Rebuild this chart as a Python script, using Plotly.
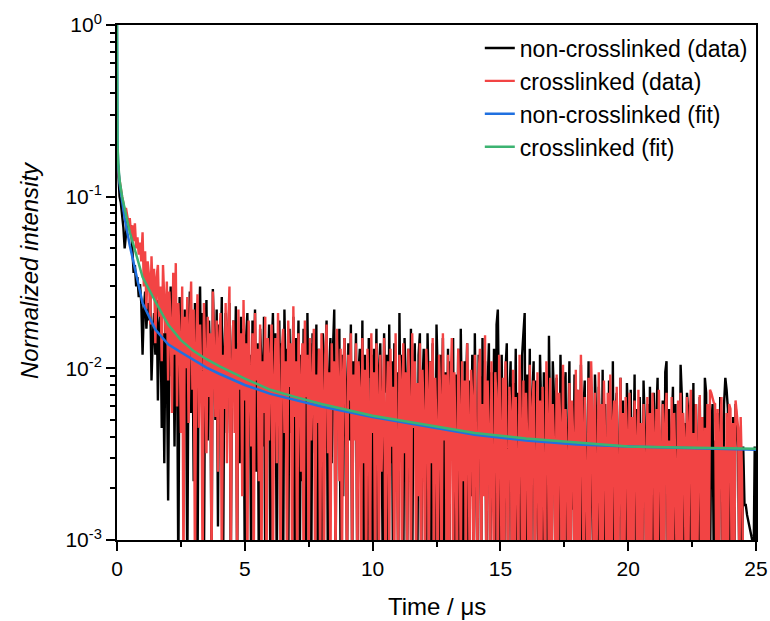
import plotly.graph_objects as go

# ---------------- data ----------------
data_dt = 0.05  # µs between samples of the measured decays

# non-crosslinked decay, one row per µs (20 samples per row)
noncross_data = [
    0.195, 0.13, 0.10, 0.092, 0.080, 0.066, 0.050, 0.060, 0.072, 0.070, 0.064, 0.068, 0.048, 0.036, 0.040, 0.030, 0.034, 0.026, 0.031, 0.024,
    0.012, 0.022, 0.028, 0.017, 0.024, 0.019, 0.026, 0.0085, 0.015, 0.021, 0.012, 0.025, 0.0065, 0.018, 0.022, 0.0045, 0.016, 0.0028, 0.019, 0.011,
    0.0017, 0.014, 0.030, 0.009, 0.024, 0.0035, 0.020, 0.013, 0.0006, 0.026, 0.008, 0.018, 0.0045, 0.022, 0.011, 0.0006, 0.016, 0.028, 0.0055, 0.019,
    0.0022, 0.024, 0.012, 0.0006, 0.017, 0.030, 0.007, 0.021, 0.0006, 0.014, 0.025, 0.0038, 0.019, 0.011, 0.0006, 0.029, 0.015, 0.005, 0.022, 0.0012,
    0.018, 0.009, 0.026, 0.0006, 0.013, 0.021, 0.0042, 0.016, 0.024, 0.0006, 0.011, 0.019, 0.0065, 0.023, 0.0006, 0.014, 0.0028, 0.020, 0.010, 0.017,
    0.0006, 0.015, 0.021, 0.0048, 0.012, 0.0006, 0.019, 0.008, 0.022, 0.0025, 0.014, 0.0006, 0.017, 0.011, 0.0035, 0.020, 0.0006, 0.013, 0.0075, 0.018,
    0.0006, 0.012, 0.021, 0.0055, 0.016, 0.0006, 0.010, 0.019, 0.003, 0.014, 0.0006, 0.022, 0.0085, 0.013, 0.0006, 0.017, 0.0042, 0.011, 0.020, 0.0006,
    0.015, 0.0065, 0.019, 0.0006, 0.012, 0.0022, 0.017, 0.009, 0.0006, 0.021, 0.0048, 0.014, 0.0006, 0.016, 0.011, 0.0032, 0.018, 0.0006, 0.013, 0.0075,
    0.0006, 0.016, 0.0042, 0.012, 0.019, 0.0006, 0.0095, 0.015, 0.0028, 0.013, 0.022, 0.0006, 0.011, 0.0058, 0.017, 0.0006, 0.012, 0.0018, 0.015, 0.0085,
    0.0006, 0.014, 0.0038, 0.018, 0.0006, 0.011, 0.0065, 0.016, 0.0006, 0.0095, 0.013, 0.0025, 0.019, 0.0006, 0.012, 0.0048, 0.0006, 0.015, 0.0088, 0.012,
    0.0006, 0.013, 0.0032, 0.017, 0.0006, 0.0098, 0.014, 0.0045, 0.0006, 0.016, 0.0072, 0.012, 0.0006, 0.018, 0.0028, 0.011, 0.0006, 0.014, 0.0055, 0.0095,
    0.0006, 0.021, 0.0042, 0.012, 0.0006, 0.015, 0.0085, 0.0006, 0.013, 0.0026, 0.017, 0.0006, 0.0092, 0.014, 0.0038, 0.0006, 0.012, 0.016, 0.0006, 0.0078,
    0.013, 0.0025, 0.0006, 0.016, 0.0068, 0.011, 0.0006, 0.014, 0.0032, 0.0006, 0.018, 0.0088, 0.0006, 0.012, 0.0045, 0.015, 0.0006, 0.0095, 0.0021, 0.013,
    0.0006, 0.011, 0.0055, 0.015, 0.0006, 0.0092, 0.0028, 0.013, 0.0006, 0.017, 0.0042, 0.0006, 0.011, 0.0072, 0.014, 0.0006, 0.0085, 0.0018, 0.012, 0.0006,
    0.016, 0.0048, 0.0006, 0.012, 0.0088, 0.0006, 0.015, 0.0032, 0.011, 0.0006, 0.0078, 0.014, 0.0006, 0.0095, 0.0024, 0.013, 0.0006, 0.018, 0.022, 0.0052,
    0.0006, 0.012, 0.0035, 0.0006, 0.0098, 0.014, 0.0006, 0.0065, 0.011, 0.0006, 0.0082, 0.0022, 0.013, 0.0006, 0.0072, 0.0045, 0.0006, 0.012, 0.016, 0.021,
    0.0006, 0.0092, 0.0028, 0.013, 0.0006, 0.0068, 0.011, 0.0006, 0.0085, 0.0035, 0.0006, 0.012, 0.0052, 0.0006, 0.0095, 0.0018, 0.0078, 0.0006, 0.0155, 0.0042,
    0.0006, 0.011, 0.0065, 0.0006, 0.0088, 0.0025, 0.0006, 0.012, 0.0048, 0.0006, 0.0072, 0.0095, 0.0006, 0.0038, 0.011, 0.0006, 0.0062, 0.0015, 0.0092, 0.0006,
    0.0075, 0.0032, 0.0006, 0.0105, 0.0006, 0.0058, 0.0085, 0.0006, 0.0042, 0.011, 0.0006, 0.0068, 0.0022, 0.0006, 0.0092, 0.0048, 0.0006, 0.0078, 0.0035, 0.0006,
    0.0098, 0.0006, 0.0062, 0.0028, 0.0006, 0.0085, 0.0045, 0.0006, 0.011, 0.0006, 0.0055, 0.0072, 0.0006, 0.0032, 0.0088, 0.0006, 0.0065, 0.0018, 0.0006, 0.0082,
    0.0048, 0.0006, 0.0075, 0.0006, 0.0038, 0.0092, 0.0006, 0.0058, 0.0006, 0.0068, 0.0025, 0.0006, 0.0085, 0.0045, 0.0006, 0.0062, 0.0006, 0.0078, 0.0032, 0.0006,
    0.0072, 0.0006, 0.0052, 0.0088, 0.0006, 0.0038, 0.0006, 0.0065, 0.0006, 0.0095, 0.011, 0.0006, 0.0058, 0.0006, 0.0042, 0.0078, 0.0006, 0.0062, 0.0006, 0.0035,
    0.0006, 0.0105, 0.0068, 0.0006, 0.0048, 0.0006, 0.0072, 0.0055, 0.0006, 0.0038, 0.0006, 0.0082, 0.0006, 0.0062, 0.0028, 0.0006, 0.0068, 0.0006, 0.0052, 0.0006,
    0.0088, 0.0072, 0.0006, 0.0058, 0.0006, 0.0045, 0.0062, 0.0006, 0.0038, 0.0006, 0.0055, 0.0006, 0.0068, 0.0048, 0.0006, 0.0062, 0.0088, 0.0075, 0.0058, 0.0006,
    0.0045, 0.0006, 0.0052, 0.0006, 0.0062, 0.0048, 0.0035, 0.0006, 0.0042, 0.0006, 0.0035, 0.0016, 0.0016, 0.0014, 0.0013, 0.0012, 0.0011, 0.0010, 0.0006, 0.0035,
    0.0006,
]

# crosslinked decay, one row per µs (20 samples per row), ends at 24.5 µs
cross_data = [
    0.190, 0.14, 0.125, 0.110, 0.100, 0.092, 0.082, 0.086, 0.078, 0.070, 0.075, 0.060, 0.068, 0.055, 0.070, 0.050, 0.058, 0.046, 0.054, 0.042,
    0.062, 0.030, 0.048, 0.022, 0.042, 0.035, 0.018, 0.045, 0.026, 0.038, 0.014, 0.034, 0.040, 0.020, 0.030, 0.011, 0.040, 0.024, 0.016, 0.032,
    0.0085, 0.028, 0.018, 0.0055, 0.036, 0.012, 0.041, 0.006, 0.024, 0.015, 0.0042, 0.030, 0.0006, 0.020, 0.010, 0.026, 0.0048, 0.017, 0.032, 0.0075,
    0.022, 0.0006, 0.014, 0.027, 0.0045, 0.018, 0.009, 0.0006, 0.024, 0.012, 0.0032, 0.020, 0.0068, 0.016, 0.0006, 0.028, 0.011, 0.0052, 0.019, 0.0025,
    0.015, 0.021, 0.0006, 0.012, 0.0058, 0.024, 0.0028, 0.017, 0.030, 0.0006, 0.010, 0.019, 0.0042, 0.013, 0.0006, 0.022, 0.0075, 0.016, 0.0018, 0.025,
    0.0065, 0.014, 0.0006, 0.019, 0.0095, 0.0035, 0.016, 0.0006, 0.021, 0.0085, 0.013, 0.0022, 0.018, 0.0006, 0.011, 0.0055, 0.020, 0.0006, 0.015, 0.0038,
    0.012, 0.018, 0.0006, 0.0088, 0.015, 0.0028, 0.021, 0.0065, 0.0006, 0.013, 0.017, 0.0042, 0.011, 0.0006, 0.019, 0.0078, 0.014, 0.0006, 0.023, 0.0052,
    0.011, 0.0006, 0.016, 0.0085, 0.0025, 0.014, 0.0006, 0.019, 0.0068, 0.012, 0.0006, 0.015, 0.0038, 0.010, 0.017, 0.0006, 0.0092, 0.0048, 0.013, 0.0006,
    0.016, 0.0072, 0.0006, 0.012, 0.018, 0.0032, 0.0095, 0.0006, 0.014, 0.0058, 0.011, 0.0006, 0.017, 0.0085, 0.0022, 0.013, 0.0006, 0.0098, 0.015, 0.0045,
    0.0006, 0.012, 0.0065, 0.016, 0.0006, 0.0092, 0.0038, 0.014, 0.0006, 0.011, 0.0075, 0.0006, 0.015, 0.0028, 0.0098, 0.0006, 0.013, 0.0055, 0.0006, 0.016,
    0.0042, 0.0095, 0.0006, 0.014, 0.0068, 0.0006, 0.012, 0.0025, 0.0088, 0.015, 0.0006, 0.0058, 0.011, 0.0006, 0.013, 0.0035, 0.0078, 0.0006, 0.016, 0.0048,
    0.0006, 0.012, 0.0085, 0.0006, 0.014, 0.0032, 0.0095, 0.0006, 0.013, 0.0062, 0.0006, 0.016, 0.0045, 0.011, 0.0006, 0.0082, 0.0018, 0.014, 0.0006, 0.0098,
    0.0052, 0.0006, 0.013, 0.0075, 0.0006, 0.011, 0.0028, 0.015, 0.0006, 0.0088, 0.0045, 0.0006, 0.012, 0.0065, 0.0006, 0.016, 0.0038, 0.0092, 0.0006, 0.012,
    0.0006, 0.0078, 0.015, 0.0006, 0.0095, 0.0032, 0.0006, 0.013, 0.0058, 0.0006, 0.011, 0.0022, 0.0085, 0.0006, 0.014, 0.0048, 0.0006, 0.0098, 0.0068, 0.0006,
    0.012, 0.0035, 0.0006, 0.0092, 0.013, 0.0006, 0.0062, 0.0018, 0.0156, 0.0006, 0.0085, 0.0042, 0.0006, 0.011, 0.0028, 0.0006, 0.0095, 0.0065, 0.0006, 0.012,
    0.0045, 0.0006, 0.0088, 0.0006, 0.011, 0.0032, 0.0006, 0.0078, 0.0055, 0.0006, 0.0098, 0.0006, 0.0068, 0.0025, 0.0006, 0.012, 0.0048, 0.0006, 0.0085, 0.0006,
    0.0072, 0.0038, 0.0006, 0.0105, 0.0006, 0.0058, 0.0085, 0.0006, 0.0032, 0.0095, 0.0006, 0.0065, 0.0006, 0.0078, 0.0022, 0.0006, 0.011, 0.0052, 0.0006, 0.0088,
    0.0006, 0.0062, 0.0035, 0.0006, 0.0092, 0.0006, 0.0072, 0.0045, 0.0006, 0.0105, 0.0006, 0.0058, 0.0028, 0.0006, 0.0082, 0.0006, 0.0065, 0.0038, 0.0006, 0.0098,
    0.0006, 0.0075, 0.0006, 0.012, 0.0048, 0.0006, 0.0068, 0.0025, 0.0006, 0.0088, 0.0006, 0.011, 0.0055, 0.0006, 0.0072, 0.0006, 0.0038, 0.0095, 0.0006, 0.0062,
    0.0006, 0.0085, 0.0035, 0.0006, 0.0072, 0.0006, 0.0092, 0.0006, 0.0048, 0.0065, 0.0006, 0.0078, 0.0006, 0.0028, 0.0088, 0.0006, 0.0055, 0.0006, 0.0068, 0.0042,
    0.0006, 0.0072, 0.0006, 0.0052, 0.0006, 0.0065, 0.0038, 0.0006, 0.0075, 0.0006, 0.0048, 0.0006, 0.0062, 0.0028, 0.0006, 0.0068, 0.0006, 0.0055, 0.0006, 0.0072,
    0.0042, 0.0006, 0.0058, 0.0006, 0.0075, 0.0035, 0.0006, 0.0062, 0.0006, 0.0048, 0.0072, 0.0006, 0.0038, 0.0006, 0.0068, 0.0006, 0.0055, 0.0025, 0.0006, 0.0065,
    0.0006, 0.0072, 0.0006, 0.0055, 0.0038, 0.0006, 0.0068, 0.0006, 0.0048, 0.0075, 0.0006, 0.0042, 0.0006, 0.0062, 0.0006, 0.0035, 0.0070, 0.0006, 0.0052, 0.0006,
    0.0045, 0.0006, 0.0062, 0.0006, 0.0075, 0.0072, 0.0066, 0.0063, 0.0062, 0.0006, 0.0058, 0.0006, 0.0042, 0.0068, 0.0006, 0.0035, 0.0006, 0.0055, 0.0006, 0.0062,
    0.0058, 0.0006, 0.0048, 0.0006, 0.0065, 0.0055, 0.0045, 0.0006, 0.0052, 0.0025, 0.0006,
]

fit_time = [0, 0.005, 0.01, 0.02, 0.05, 0.1, 0.2, 0.3, 0.5, 0.7, 1.0, 1.5, 2.0,
            2.5, 3.0, 3.5, 4.0, 5.0, 6.0, 7.0, 8.0, 10.0, 12.0, 14.0, 16.0,
            18.0, 20.0, 22.0, 25.0]
noncross_fit = [1.0, 0.50, 0.30, 0.20, 0.15, 0.12, 0.095, 0.075, 0.052, 0.038,
                0.024, 0.0168, 0.0138, 0.0124, 0.0112, 0.0101, 0.0093, 0.0080,
                0.0071, 0.0065, 0.0060, 0.0052, 0.0046, 0.0041, 0.0038, 0.0036,
                0.0035, 0.00343, 0.00335]
cross_fit = [1.0, 0.50, 0.30, 0.20, 0.155, 0.125, 0.100, 0.085, 0.062, 0.049,
             0.034, 0.0245, 0.0180, 0.0146, 0.0126, 0.0113, 0.0103, 0.0087,
             0.0075, 0.0068, 0.0062, 0.0053, 0.0047, 0.0042, 0.0039, 0.0037,
             0.0035, 0.00346, 0.0034]

series_names = ["non-crosslinked (data)", "crosslinked (data)",
                "non-crosslinked (fit)", "crosslinked (fit)"]
y_tick_vals = [1e-3, 1e-2, 1e-1, 1]
y_tick_text = ["10<sup>-3</sup>", "10<sup>-2</sup>", "10<sup>-1</sup>", "10<sup>0</sup>"]
y_minor_vals = [m * 10.0 ** e for e in (-3, -2, -1) for m in range(2, 10)]
x_tick_vals = [0, 5, 10, 15, 20, 25]
x_minor_vals = [2.5, 7.5, 12.5, 17.5, 22.5]
x_title = "Time / μs"
y_title = "<i>Normalized intensity</i>"

# ---------------- figure ----------------
FONT = "Liberation Sans, Arial, sans-serif"
fig = go.Figure()
fig.add_trace(go.Scatter(y=noncross_data, x0=0, dx=data_dt, mode="lines",
                         name=series_names[0], line=dict(color="#000000", width=2.4)))
fig.add_trace(go.Scatter(y=cross_data, x0=0, dx=data_dt, mode="lines",
                         name=series_names[1], line=dict(color="#F24444", width=2.4)))
fig.add_trace(go.Scatter(x=fit_time, y=noncross_fit, mode="lines",
                         name=series_names[2], line=dict(color="#2070E0", width=2.5)))
fig.add_trace(go.Scatter(x=fit_time, y=cross_fit, mode="lines",
                         name=series_names[3], line=dict(color="#3CB371", width=2.5)))

axis_common = dict(showline=True, linecolor="black", linewidth=2, mirror=True,
                   ticks="outside", ticklen=9, tickwidth=2, tickcolor="black",
                   showgrid=False, zeroline=False, automargin=False,
                   tickfont=dict(family=FONT, size=21, color="black"))

fig.update_xaxes(range=[0, 25], tickvals=x_tick_vals,
                 minor=dict(tickvals=x_minor_vals, ticks="outside", ticklen=5,
                            tickwidth=2, tickcolor="black"),
                 **axis_common)
fig.update_yaxes(type="log", range=[-3, 0], tickvals=y_tick_vals, ticktext=y_tick_text,
                 minor=dict(tickvals=y_minor_vals, ticks="outside", ticklen=5,
                            tickwidth=2, tickcolor="black"),
                 **axis_common)

fig.add_annotation(text=x_title, xref="paper", yref="paper", x=0.5, y=-0.130,
                   xanchor="center", yanchor="middle", showarrow=False,
                   font=dict(family=FONT, size=24, color="black"))
fig.add_annotation(text=y_title, xref="paper", yref="paper", x=-0.138, y=0.524,
                   xanchor="center", yanchor="middle", showarrow=False, textangle=-90,
                   font=dict(family=FONT, size=24, color="black"))

fig.update_layout(
    width=770, height=621,
    margin=dict(l=117, r=14, t=25, b=81),
    plot_bgcolor="white", paper_bgcolor="white",
    font=dict(family=FONT, color="black"),
    legend=dict(x=0.995, xanchor="right", y=0.997, yanchor="top",
                bgcolor="rgba(0,0,0,0)", borderwidth=0,
                font=dict(family=FONT, size=23, color="black"),
                tracegroupgap=0),
)

fig.write_html("out.html", config={"displayModeBar": False},
               post_script="document.body.style.margin='0';document.body.style.overflow='hidden';")
